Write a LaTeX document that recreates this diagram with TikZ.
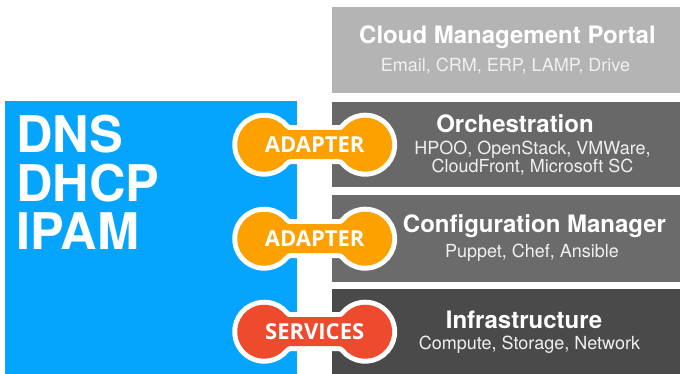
\documentclass[tikz,border=0pt]{standalone}
\usepackage{fontspec}
\setmainfont{TeX Gyre Heros}
\newfontfamily\badgefont{Open Sans}
\usetikzlibrary{calc}

\definecolor{dnsblue}{RGB}{6,165,253}
\definecolor{portalgray}{RGB}{180,180,180}
\definecolor{orchgray}{RGB}{104,104,104}
\definecolor{confgray}{RGB}{107,107,107}
\definecolor{infragray}{RGB}{74,74,74}
\definecolor{adapterorange}{RGB}{252,161,0}
\definecolor{servicesred}{RGB}{238,74,46}

\tikzset{
  layer/.style={fill=#1, minimum width=348pt, anchor=north west, inner sep=0pt},
  title/.style={text=white, anchor=base, inner sep=0pt, font=\bfseries\fontsize{24}{26}\selectfont},
  sub/.style={text=white!94!black, anchor=base, inner sep=0pt, align=center, font=\fontsize{18}{16.5}\selectfont},
  badge/.style={text=white, inner sep=0pt, font=\badgefont\bfseries\fontsize{22}{22}\selectfont},
  pics/bone/.style={code={
    % two lobes joined by a bar, with rounded fillets
    \fill[#1, preaction={draw=white, line width=10pt}]
      (24.64,14.5) -- (-24.64,14.5)
      arc[start angle=270, end angle=218.4, radius=6]
      arc[start angle=38.4, end angle=321.6, radius=27]
      arc[start angle=141.6, end angle=90, radius=6]
      -- (24.64,-14.5)
      arc[start angle=90, end angle=38.4, radius=6]
      arc[start angle=-141.6, end angle=141.6, radius=27]
      arc[start angle=-38.4, end angle=-90, radius=6] -- cycle;
  }}
}

\begin{document}
\begin{tikzpicture}[x=1pt, y=1pt]
  \useasboundingbox (0,0) rectangle (681,-374);

  % left block
  \node[fill=dnsblue, anchor=north west, inner sep=0pt, minimum width=292pt, minimum height=273pt] (dns) at (5,-101) {};
  % anchor at the baseline of the last line
  \node[text=white, anchor=base west, inner sep=0pt, align=left, font=\bfseries\fontsize{50.5}{48.5}\selectfont] (services) at (16,-250) {DNS\\DHCP\\IPAM};

  % right stack
  \node[layer=portalgray, minimum height=86pt] (portal) at (332,-7) {};
  \node[layer=orchgray, minimum height=85pt] (orch) at (332,-102) {};
  \node[layer=confgray, minimum height=87pt] (conf) at (332,-195) {};
  \node[layer=infragray, minimum height=85pt] (infra) at (332,-289) {};

  \node[title] (portaltitle) at (507.5,-44) {Cloud Management Portal};
  \node[sub] (portalsub) at (505.5,-72) {Email, CRM, ERP, LAMP, Drive};
  \node[title] (orchtitle) at (515,-133) {Orchestration};
  \node[sub] (orchsub) at (532.5,-173) {HPOO, OpenStack, VMWare,\\CloudFront, Microsoft SC};
  \node[title] (conftitle) at (534.5,-233) {Configuration Manager};
  \node[sub] (confsub) at (532,-258) {Puppet, Chef, Ansible};
  \node[title] (infratitle) at (524,-329) {Infrastructure};
  \node[sub] (infrasub) at (529.5,-350) {Compute, Storage, Network};

  % bones between the blocks
  \foreach \lay/\c/\t in {orch/adapterorange/ADAPTER, conf/adapterorange/ADAPTER, infra/servicesred/SERVICES}{
    \coordinate (\lay link) at ($(dns.east |- \lay.west)!0.5!(\lay.west)$);
    \pic at (\lay link) {bone=\c};
    \node[badge] (\lay badge) at (\lay link) {\t};
  }
\end{tikzpicture}
\end{document}
